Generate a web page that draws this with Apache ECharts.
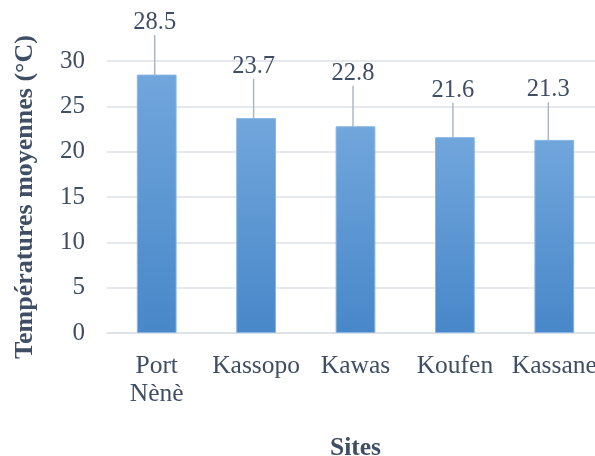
<!DOCTYPE html>
<html>
<head>
<meta charset="utf-8">
<script src="https://cdn.jsdelivr.net/npm/echarts@6/dist/echarts.min.js"></script>
<style>html,body{margin:0;padding:0;background:#fff;overflow:hidden}#c{width:595px;height:456px}</style>
</head>
<body>
<div id="c"></div>
<script>
var categories = ['Port\nNènè', 'Kassopo', 'Kawas', 'Koufen', 'Kassane'];
var temperatures = [28.5, 23.7, 22.8, 21.6, 21.3];
var yTicks = { min: 0, max: 30, interval: 5 };

// label callout offsets in pixels (style only)
var labelDx = [-2, -2.5, -2.5, -2, -6];
var labelUp = [52, 52, 53, 47, 50];

var FONT = 'Liberation Serif';
var TXT = '#3f4e64';
var GRID = '#dde1e6';

var chart = echarts.init(document.getElementById('c'), null, { renderer: 'canvas', width: 595, height: 456 });
chart.setOption({
  animation: false,
  grid: { left: 107, top: 61, width: 497, height: 272, containLabel: false, outerBoundsMode: 'none' },
  xAxis: {
    type: 'category',
    data: categories,
    name: 'Sites',
    nameLocation: 'middle',
    nameGap: 102,
    nameTextStyle: { fontFamily: FONT, fontSize: 25.5, fontWeight: 'bold', color: TXT },
    axisLine: { show: true, lineStyle: { color: GRID, width: 1.5 } },
    axisTick: { show: false },
    axisLabel: { fontFamily: FONT, fontSize: 25.5, color: TXT, margin: 19, lineHeight: 28, interval: 0 }
  },
  yAxis: {
    type: 'value',
    min: yTicks.min, max: yTicks.max, interval: yTicks.interval,
    name: 'Températures moyennes (°C)',
    nameLocation: 'middle',
    nameGap: 69,
    nameTextStyle: { fontFamily: FONT, fontSize: 26, fontWeight: 'bold', color: TXT },
    axisLine: { show: false },
    axisTick: { show: false },
    splitLine: { lineStyle: { color: GRID, width: 1.5 } },
    axisLabel: { fontFamily: FONT, fontSize: 25, color: TXT, margin: 22 }
  },
  series: [{
    type: 'bar',
    data: temperatures,
    barWidth: '40%',
    itemStyle: {
      color: new echarts.graphic.LinearGradient(0, 0, 0, 1, [
        { offset: 0, color: '#71a6dc' },
        { offset: 1, color: '#4887c9' }
      ]),
      borderColor: '#86b5e4',
      borderWidth: 1
    },
    label: {
      show: true,
      position: 'top',
      fontFamily: FONT,
      fontSize: 24.5,
      color: TXT,
      formatter: function (p) { return p.value.toFixed(1); }
    },
    labelLine: { show: true, lineStyle: { color: '#aeb8c5', width: 1.5 } },
    labelLayout: function (p) {
      var r = p.rect;
      var i = p.dataIndex;
      return {
        x: r.x + r.width / 2 + labelDx[i],
        y: r.y - labelUp[i],
        align: 'center',
        verticalAlign: 'middle'
      };
    }
  }]
});
</script>
</body>
</html>
